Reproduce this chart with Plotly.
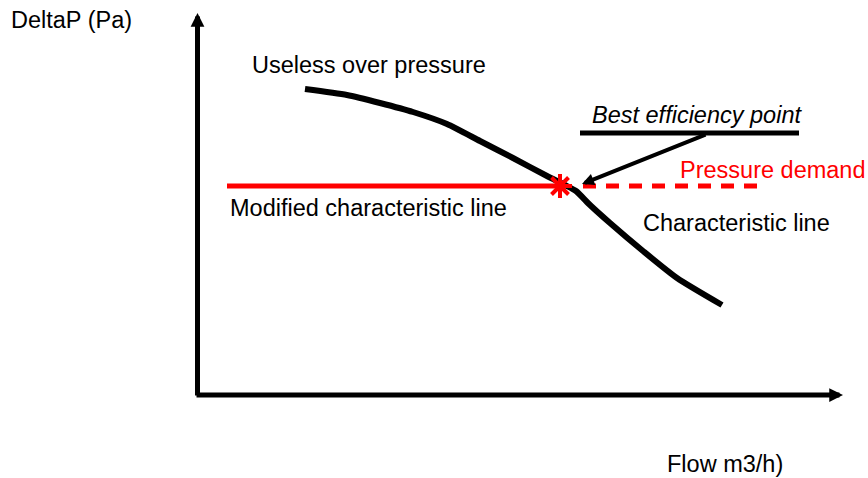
import plotly.graph_objects as go

# Pump characteristic sketch: flow (x) vs. pressure rise (y), schematic units
curve_flow = [305, 347, 380, 413, 447, 480, 513, 547, 565, 576, 590, 610, 643, 677, 722]
curve_dp = [389, 383, 375, 366, 354, 337, 320, 302, 293, 287, 273, 255, 227, 200, 173]

demand_dp = 292                     # required pressure level
modified_flow = [227, 562]          # throttled (modified) characteristic
demand_flow = [583, 762]            # remaining pressure-demand line
bep_flow, bep_dp = 560, 292         # best efficiency point

label_bar_flow = [580, 799]
label_bar_dp = 345

axis_origin = (195, 81)
axis_x_end = 843
axis_y_end = 465

FONT = "Liberation Sans, Arial, Helvetica, sans-serif"
RED = "#ff0000"

fig = go.Figure()

# characteristic curve
fig.add_trace(go.Scatter(x=curve_flow, y=curve_dp, mode="lines",
                         line=dict(color="black", width=6, shape="spline", smoothing=0.6),
                         hoverinfo="skip"))
# modified characteristic (solid red)
fig.add_trace(go.Scatter(x=modified_flow, y=[demand_dp] * 2, mode="lines",
                         line=dict(color=RED, width=5), hoverinfo="skip"))
# pressure demand (dashed red)
fig.add_trace(go.Scatter(x=demand_flow, y=[demand_dp] * 2, mode="lines",
                         line=dict(color=RED, width=5, dash="13px,10px"), hoverinfo="skip"))
# bar under the BEP label
fig.add_trace(go.Scatter(x=label_bar_flow, y=[label_bar_dp] * 2, mode="lines",
                         line=dict(color="black", width=5), hoverinfo="skip"))
# best efficiency point marker
fig.add_trace(go.Scatter(x=[bep_flow], y=[bep_dp], mode="markers",
                         marker=dict(symbol="asterisk-open", size=20, color=RED,
                                     opacity=1, line=dict(color=RED, width=4)),
                         hoverinfo="skip"))

def arrow(x0, y0, x1, y1, width, size):
    fig.add_annotation(x=x1, y=y1, ax=x0, ay=y0, xref="x", yref="y",
                       axref="x", ayref="y", text="", showarrow=True,
                       arrowhead=2, arrowsize=size, arrowwidth=width,
                       arrowcolor="black", standoff=0)

# axes with arrow heads
arrow(axis_origin[0] + 2.5, axis_origin[1], axis_origin[0] + 2.5, axis_y_end, 5, 0.55)
arrow(axis_origin[0], axis_origin[1] + 2, axis_x_end, axis_origin[1] + 2, 5, 0.55)
# pointer from label to BEP
arrow(707, 344, 582, 294, 4, 0.6)

def label(x, y, text, color="black", italic=False):
    fig.add_annotation(x=x, y=y, xref="x", yref="y", text=text, showarrow=False,
                       xanchor="left", yanchor="middle",
                       font=dict(family=FONT, size=23.5, color=color,
                                 style="italic" if italic else "normal"))

label(9, 458, "DeltaP (Pa)")
label(250, 413, "Useless over pressure")
label(590, 363, "Best efficiency point", italic=True)
label(678, 308, "Pressure demand", color=RED)
label(228, 270, "Modified characteristic line")
label(641, 255, "Characteristic line")
label(665, 14, "Flow m3/h)")

fig.update_layout(
    width=868, height=478, margin=dict(l=0, r=0, t=0, b=0),
    paper_bgcolor="white", plot_bgcolor="white", showlegend=False,
    xaxis=dict(range=[0, 868], visible=False, fixedrange=True),
    yaxis=dict(range=[0, 478], visible=False, fixedrange=True),
)

fig.write_html("out.html")
